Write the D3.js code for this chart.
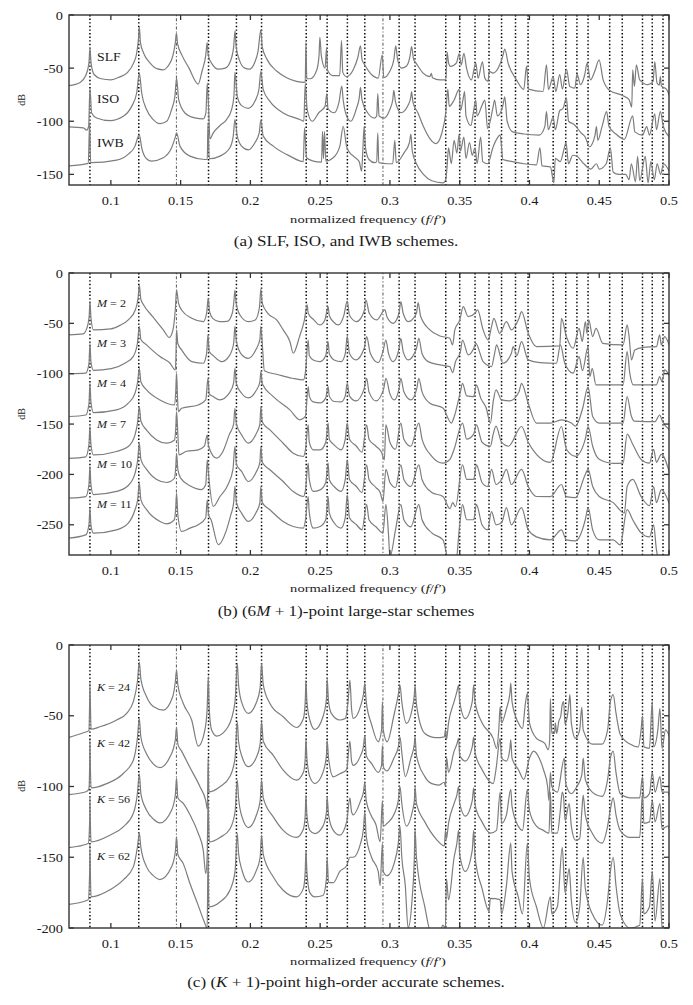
<!DOCTYPE html>
<html><head><meta charset="utf-8">
<script src="https://cdn.jsdelivr.net/npm/d3@7"></script>
<style>
body{margin:0;background:#fff}
text{font-family:"Liberation Serif","Times New Roman",serif;fill:#1a1a1a}
</style>
</head><body>
<svg id="chart" width="693" height="1005"></svg>
<script>
// ---------------- data ----------------
const eigenFreqs = [0.085,0.12,0.147,0.17,0.19,0.208,0.24,0.255,0.2695,0.282,0.295,0.3066,0.318,0.34,0.35,0.361,0.371,0.38,0.39,0.399,0.417,0.426,0.434,0.442,0.4575,0.4665,0.481,0.488,0.4957];
const lightFreqs = [0.147,0.295];
const xTicks = [0.1,0.15,0.2,0.25,0.3,0.35,0.4,0.45,0.5];
const xTickLabels = ["0.1","0.15","0.2","0.25","0.3","0.35","0.4","0.45","0.5"];
const yTicksA = [0,-50,-100,-150];
const yTicksB = [0,-50,-100,-150,-200,-250];
const yTicksC = [0,-50,-100,-150,-200];
const yTickLabelsA = ["0","-50","-100","-150"];
const yTickLabelsB = ["0","-50","-100","-150","-200","-250"];
const yTickLabelsC = ["0","-50","-100","-150","-200"];

const slf = [[0.070,-66.5],[0.078,-63.5],[0.082,-57],[0.0843,-45],[0.085,-31],[0.0858,-45],[0.088,-56],[0.093,-60],[0.100,-61],[0.106,-58.5],[0.112,-54],[0.116,-46],[0.1185,-36],[0.1198,-22],[0.1204,-11],[0.1212,-26],[0.1235,-36],[0.128,-45],[0.133,-50.5],[0.1376,-51.6],[0.141,-48],[0.1445,-38],[0.1462,-26],[0.147,-17],[0.1478,-27],[0.151,-38],[0.156,-50],[0.1626,-65],[0.1655,-52],[0.168,-38],[0.169,-26],[0.1698,-38],[0.173,-47],[0.177,-51],[0.182,-50],[0.1855,-44],[0.188,-30],[0.189,-15],[0.1898,-30],[0.192,-42],[0.196,-50],[0.1995,-51],[0.203,-45],[0.2055,-34],[0.2075,-14],[0.2085,-30],[0.212,-42],[0.219,-53],[0.226,-59],[0.233,-62.5],[0.2393,-63.5],[0.2398,-26],[0.2404,-60],[0.243,-60],[0.2475,-52],[0.2492,-38],[0.2498,-21],[0.2508,-38],[0.2535,-50],[0.2546,-31],[0.2553,-52],[0.259,-57],[0.264,-57],[0.2653,-24],[0.2662,-54],[0.2689,-58],[0.2737,-51.5],[0.2770,-40],[0.2789,-29],[0.2800,-42],[0.2820,-47],[0.2868,-56],[0.2916,-59.4],[0.2945,-37.5],[0.2956,-59],[0.2999,-53],[0.3028,-42],[0.3042,-29],[0.3055,-42],[0.3083,-50],[0.3119,-48],[0.3145,-38],[0.3155,-29.7],[0.3170,-42],[0.3186,-45],[0.3238,-54.7],[0.3286,-58],[0.3297,-55],[0.3305,-59],[0.3358,-61],[0.3401,-61],[0.3410,-35],[0.3420,-45],[0.3434,-48.4],[0.3477,-45],[0.3496,-36.5],[0.3511,-47],[0.3530,-36],[0.3549,-50],[0.3584,-61],[0.3615,-45],[0.3632,-59.4],[0.3663,-44],[0.3680,-59.4],[0.3704,-62.5],[0.3711,-53],[0.3740,-54.7],[0.3787,-46.9],[0.3810,-38],[0.3823,-32],[0.3847,-45.3],[0.3907,-61],[0.3959,-70],[0.3979,-48],[0.3993,-69.7],[0.4098,-72],[0.4122,-47],[0.4136,-70.3],[0.4170,-58],[0.4189,-71.9],[0.4217,-56],[0.4236,-69.7],[0.4265,-51],[0.4289,-67.2],[0.4325,-68.75],[0.4341,-55.3],[0.4365,-65.6],[0.4396,-56.25],[0.4413,-45.3],[0.4437,-61],[0.4468,-53],[0.4499,-42.2],[0.4528,-61],[0.4575,-71],[0.4671,-76],[0.4714,-79.7],[0.4733,-86.6],[0.4740,-51.6],[0.4752,-67.2],[0.4766,-46.9],[0.4790,-61],[0.4850,-65.6],[0.4886,-62.5],[0.4898,-43.75],[0.4914,-64],[0.4930,-66],[0.4938,-58],[0.4946,-67],[0.4981,-69.7],[0.5005,-76.6]];

const iso = [[0.070,-105.3],[0.0803,-106.25],[0.0827,-108.4],[0.0841,-104.7],[0.0850,-69],[0.0862,-92.2],[0.0898,-96.9],[0.0994,-99.4],[0.1089,-95.3],[0.1149,-86],[0.1185,-73.4],[0.1204,-54.7],[0.1221,-73.4],[0.1256,-89],[0.1304,-98.4],[0.1352,-102.2],[0.1400,-100],[0.1435,-89],[0.1459,-76.6],[0.1471,-59.4],[0.1486,-79.7],[0.1531,-92.2],[0.1603,-96.9],[0.1662,-97.8],[0.1681,-92.2],[0.1691,-64],[0.1700,-86],[0.1710,-116.6],[0.1734,-111],[0.1782,-104],[0.1829,-98.4],[0.1865,-89],[0.1882,-76.6],[0.1889,-54],[0.1906,-76.6],[0.1937,-85.3],[0.1985,-87.8],[0.2032,-81.25],[0.2061,-70.3],[0.2075,-53.1],[0.2092,-70.3],[0.2140,-81.25],[0.2235,-92.2],[0.2355,-98.4],[0.2383,-100],[0.2393,-64.7],[0.2407,-89],[0.2443,-100],[0.2490,-92],[0.2535,-86],[0.2548,-74],[0.2556,-88],[0.2600,-92],[0.2635,-82],[0.2655,-67],[0.2665,-80],[0.2700,-98],[0.2720,-100],[0.2760,-88],[0.2780,-78],[0.2789,-68],[0.2800,-80],[0.2840,-92],[0.2890,-97],[0.2905,-95],[0.2913,-74],[0.2922,-95],[0.2960,-97],[0.2999,-89],[0.3020,-80],[0.3028,-71],[0.3040,-82],[0.3080,-92],[0.3130,-85],[0.3150,-77],[0.3155,-72],[0.3165,-82],[0.3200,-92],[0.3240,-105],[0.3290,-117],[0.3330,-121],[0.3370,-112],[0.3400,-92],[0.3415,-70],[0.3425,-86],[0.3460,-80],[0.3496,-70],[0.3505,-90],[0.3530,-75],[0.3535,-72],[0.3545,-95],[0.3580,-104],[0.3600,-90],[0.3615,-80],[0.3625,-95],[0.3660,-85],[0.3680,-80],[0.3700,-107],[0.3740,-86],[0.3750,-80],[0.3770,-95],[0.3810,-85],[0.3823,-77],[0.3840,-100],[0.3880,-110],[0.3960,-112],[0.4070,-113],[0.4110,-105],[0.4122,-91],[0.4135,-108],[0.4170,-96],[0.4185,-108],[0.4217,-90],[0.4240,-88],[0.4265,-78],[0.4280,-100],[0.4320,-103],[0.4370,-111],[0.4400,-115],[0.4430,-124],[0.4470,-113],[0.4480,-105],[0.4490,-118],[0.4520,-105],[0.4553,-91],[0.4570,-105],[0.4620,-112],[0.4680,-117],[0.4740,-95],[0.4755,-110],[0.4810,-113],[0.4840,-105],[0.4860,-113],[0.4898,-93],[0.4910,-108],[0.4938,-91],[0.4960,-105],[0.5005,-115]];

const iwb = [[0.070,-142],[0.0838,-139.7],[0.0848,-101.6],[0.0855,-139],[0.1041,-136.6],[0.1125,-131],[0.1173,-123.4],[0.1197,-114],[0.1204,-112.5],[0.1221,-125],[0.1256,-135.3],[0.1292,-137.5],[0.1376,-134.4],[0.1435,-125],[0.1464,-114],[0.1471,-111],[0.1495,-123.4],[0.1567,-132.8],[0.1674,-136],[0.1691,-136],[0.1696,-101.6],[0.1705,-135.3],[0.1782,-132.8],[0.1853,-125],[0.1877,-114],[0.1889,-98.4],[0.1906,-114],[0.1937,-123.4],[0.1985,-127],[0.2032,-120.3],[0.2063,-111],[0.2075,-99],[0.2092,-114],[0.2164,-123.4],[0.2283,-132.8],[0.2379,-138],[0.2388,-106.25],[0.2402,-134.4],[0.2450,-137.5],[0.2510,-138.4],[0.2517,-109.4],[0.2524,-135.3],[0.2531,-109.4],[0.2541,-137.5],[0.2594,-134.4],[0.2641,-123.4],[0.2665,-104.7],[0.2689,-123.4],[0.2713,-129.7],[0.2740,-133],[0.2780,-138],[0.2797,-147],[0.2805,-130],[0.2815,-105],[0.2825,-125],[0.2850,-136],[0.2890,-139],[0.2905,-138],[0.2913,-111],[0.2920,-139],[0.2980,-140],[0.3020,-140],[0.3035,-118],[0.3045,-139],[0.3100,-130],[0.3140,-120],[0.3150,-112],[0.3160,-128],[0.3190,-140],[0.3240,-150],[0.3300,-156],[0.3380,-158],[0.3400,-155],[0.3410,-142],[0.3420,-125],[0.3440,-140],[0.3460,-118],[0.3480,-130],[0.3496,-112],[0.3505,-128],[0.3530,-115],[0.3545,-135],[0.3570,-120],[0.3590,-132],[0.3610,-125],[0.3625,-140],[0.3650,-115],[0.3665,-138],[0.3700,-140],[0.3740,-124],[0.3760,-118],[0.3790,-113],[0.3810,-136],[0.3880,-138],[0.3960,-140],[0.4050,-141],[0.4075,-125],[0.4090,-142],[0.4150,-143],[0.4175,-158],[0.4185,-135],[0.4220,-138],[0.4250,-125],[0.4262,-120],[0.4280,-140],[0.4310,-132],[0.4340,-133],[0.4390,-140],[0.4440,-145],[0.4480,-140],[0.4500,-145],[0.4550,-140],[0.4580,-125],[0.4600,-148],[0.4640,-150],[0.4690,-150],[0.4714,-155],[0.4730,-140],[0.4760,-157],[0.4775,-133],[0.4790,-156],[0.4830,-133],[0.4850,-158],[0.4870,-138],[0.4895,-155],[0.4915,-140],[0.4940,-150],[0.4960,-140],[0.5005,-148]];

const m2 = [[0.070,-61.5],[0.080,-60.5],[0.083,-54],[0.0845,-42],[0.085,-28.5],[0.0857,-44],[0.0875,-56.5],[0.100,-55.5],[0.1065,-52],[0.1125,-46.6],[0.1175,-36.7],[0.1195,-25],[0.1204,-12],[0.1215,-26],[0.1235,-31.7],[0.130,-43.3],[0.1376,-56.5],[0.1419,-64],[0.1445,-56.5],[0.1462,-36],[0.1471,-17],[0.1485,-30],[0.1507,-36.7],[0.158,-45],[0.1662,-48.3],[0.1686,-40],[0.1698,-25],[0.1707,-38],[0.173,-45],[0.178,-48.3],[0.1835,-48],[0.1870,-40],[0.1882,-28],[0.1889,-17],[0.1898,-30],[0.1925,-41.7],[0.1985,-48.3],[0.2035,-46.6],[0.2065,-34],[0.2075,-16],[0.2085,-30],[0.2125,-40],[0.2188,-46.6],[0.2235,-56.5],[0.2283,-68],[0.2307,-79.7],[0.2352,-63.2],[0.2385,-48],[0.2407,-31.7],[0.2414,-40],[0.2455,-46.6],[0.2498,-51.6],[0.2534,-46.6],[0.2557,-33.4],[0.2565,-42],[0.2594,-48.3],[0.2630,-51.6],[0.2670,-42],[0.2694,-28],[0.2710,-42],[0.2761,-48.3],[0.2815,-38],[0.2828,-26.8],[0.2852,-40],[0.2905,-46.6],[0.2964,-36.7],[0.2980,-44],[0.3023,-50],[0.3065,-40],[0.3078,-28.4],[0.3095,-40],[0.3131,-48.3],[0.3190,-40],[0.3202,-29.4],[0.3220,-43],[0.3286,-56.5],[0.3358,-62.5],[0.3429,-64.8],[0.3449,-71.4],[0.3465,-56.5],[0.3501,-46.6],[0.3525,-33.4],[0.3561,-43.3],[0.3610,-40],[0.3628,-36.7],[0.3668,-56.5],[0.3704,-66.5],[0.3730,-52],[0.3745,-45],[0.3787,-59.9],[0.3835,-48.3],[0.3871,-56.5],[0.3925,-45],[0.3943,-38.4],[0.3991,-59.9],[0.4050,-73.1],[0.4217,-72.4],[0.4229,-45],[0.4265,-63.2],[0.4313,-74.7],[0.4356,-54.9],[0.4378,-68],[0.4401,-48.3],[0.4412,-60],[0.4425,-46.6],[0.4453,-63.2],[0.4477,-54.9],[0.4525,-69.8],[0.4671,-71.4],[0.4700,-51.6],[0.4714,-63.2],[0.4731,-86.3],[0.4755,-76.4],[0.4814,-73.8],[0.4910,-73.1],[0.4933,-61.5],[0.4945,-71.4],[0.4969,-63.2],[0.5005,-73.1]];

const m3 = [[0.070,-100],[0.082,-99.5],[0.0843,-90],[0.085,-69.8],[0.0857,-88],[0.0875,-96.6],[0.1003,-95],[0.110,-89.6],[0.1160,-83],[0.1190,-70],[0.1204,-53],[0.1215,-66],[0.1256,-71.4],[0.1352,-83],[0.1424,-89.6],[0.1462,-96.2],[0.1467,-80],[0.1471,-56.5],[0.1480,-70],[0.1507,-76.4],[0.158,-88],[0.1662,-89.6],[0.1686,-80],[0.1696,-61.5],[0.1705,-78],[0.1734,-82],[0.1794,-88],[0.1850,-82],[0.1880,-70],[0.1889,-53],[0.1900,-68],[0.1937,-81],[0.1985,-84.7],[0.2040,-76],[0.2068,-66],[0.2075,-53],[0.2085,-70],[0.2100,-97],[0.2200,-101],[0.2300,-104.5],[0.2380,-106.2],[0.2395,-98],[0.2414,-66.5],[0.2422,-82],[0.2450,-86.3],[0.2500,-88],[0.2540,-82],[0.2557,-68],[0.2565,-80],[0.2600,-86.3],[0.2650,-88],[0.2680,-80],[0.2694,-63],[0.2710,-80],[0.2756,-86.3],[0.2815,-75],[0.2833,-63.2],[0.2860,-80],[0.2916,-89],[0.2950,-78],[0.2971,-66.5],[0.2990,-80],[0.3023,-88],[0.3065,-75],[0.3078,-64.8],[0.3095,-78],[0.3131,-86.3],[0.3190,-75],[0.3207,-64.8],[0.3230,-80],[0.3274,-88],[0.3358,-91.3],[0.3429,-92.9],[0.3449,-99],[0.3470,-88],[0.3505,-78],[0.3520,-66.5],[0.3561,-81.3],[0.3600,-75],[0.3615,-69.8],[0.3668,-88],[0.3728,-92.9],[0.3750,-80],[0.3764,-71.4],[0.3810,-89.6],[0.3870,-80],[0.3883,-73.1],[0.3910,-82],[0.3943,-68.1],[0.3991,-86.3],[0.4074,-89],[0.4193,-89.6],[0.4222,-71.4],[0.4253,-89.6],[0.4313,-99.5],[0.4356,-83],[0.4380,-97],[0.4420,-73.1],[0.4432,-102.8],[0.4450,-95],[0.4477,-111.1],[0.4671,-111.1],[0.4700,-78],[0.4719,-99.5],[0.4743,-111],[0.4910,-111],[0.4933,-102.8],[0.4950,-108],[0.4969,-96.2],[0.5005,-102.8]];

const m4 = [[0.070,-142.5],[0.082,-141],[0.0843,-130],[0.085,-109.5],[0.0857,-128],[0.0875,-138.6],[0.1041,-135.9],[0.1125,-129.3],[0.1173,-119.4],[0.1192,-108],[0.1204,-94.6],[0.1215,-108],[0.1256,-116],[0.1352,-126],[0.1455,-131],[0.1465,-118],[0.1471,-99.5],[0.1478,-125],[0.1484,-137.6],[0.1507,-134.3],[0.1626,-131],[0.1680,-126],[0.1696,-104.5],[0.1705,-120],[0.1734,-122.7],[0.1780,-126],[0.1850,-119],[0.1880,-109],[0.1889,-94.6],[0.1900,-110],[0.1937,-119.4],[0.1985,-124],[0.2040,-117],[0.2068,-108],[0.2075,-97.9],[0.2085,-110],[0.2164,-122.7],[0.2283,-135.9],[0.2355,-145.8],[0.2395,-142],[0.2414,-112.8],[0.2422,-122],[0.2450,-128],[0.2500,-129],[0.2540,-124],[0.2557,-112.8],[0.2565,-122],[0.2600,-127.6],[0.2650,-128],[0.2680,-122],[0.2694,-109.5],[0.2710,-122],[0.2756,-127],[0.2815,-115],[0.2833,-104.5],[0.2850,-118],[0.2900,-127],[0.2955,-115],[0.2971,-104.5],[0.3000,-120],[0.3030,-126],[0.3065,-115],[0.3078,-104.5],[0.3100,-118],[0.3150,-126],[0.3192,-115],[0.3207,-104.5],[0.3230,-118],[0.3286,-129.3],[0.3380,-134],[0.3440,-149],[0.3460,-143],[0.3505,-118],[0.3520,-109.5],[0.3550,-122],[0.3600,-122.7],[0.3620,-111],[0.3650,-124],[0.3690,-134],[0.3720,-149],[0.3740,-128],[0.3760,-116],[0.3800,-126],[0.3860,-127],[0.3925,-118],[0.3943,-109.5],[0.3991,-129.3],[0.4050,-149],[0.4150,-149],[0.4229,-145.8],[0.4300,-149],[0.4330,-152],[0.4380,-135],[0.4420,-113],[0.4453,-142.5],[0.4500,-149],[0.4671,-149.1],[0.4700,-122.7],[0.4730,-142],[0.4750,-147],[0.4900,-147.5],[0.4933,-141],[0.4955,-148],[0.5005,-155.8]];

const m7 = [[0.070,-184],[0.082,-182.5],[0.0843,-170],[0.085,-152.5],[0.0857,-170],[0.0875,-180.6],[0.1041,-177.2],[0.1125,-172.3],[0.1173,-160.7],[0.1192,-148],[0.1204,-132.6],[0.1215,-147],[0.1256,-156],[0.1328,-165.7],[0.1400,-169],[0.1455,-166],[0.1465,-155],[0.1471,-137.6],[0.1480,-160],[0.1488,-180.6],[0.1543,-177],[0.1626,-175.6],[0.1670,-172],[0.1691,-160.7],[0.1700,-172],[0.1758,-183.9],[0.1800,-178],[0.1850,-160],[0.1880,-150],[0.1889,-134.3],[0.1900,-150],[0.1937,-160.7],[0.1985,-168.9],[0.2040,-160],[0.2068,-150],[0.2075,-132.6],[0.2085,-148],[0.2140,-155.8],[0.2235,-169],[0.2307,-178.9],[0.2380,-182.2],[0.2395,-175],[0.2414,-150.8],[0.2422,-168],[0.2450,-175.6],[0.2500,-175.6],[0.2540,-168],[0.2557,-149.1],[0.2565,-165],[0.2600,-170.6],[0.2650,-175.6],[0.2680,-165],[0.2694,-149.1],[0.2710,-165],[0.2760,-172],[0.2800,-178],[0.2833,-150.8],[0.2850,-165],[0.2900,-172],[0.2940,-178],[0.2960,-185.5],[0.2971,-150.8],[0.3000,-168],[0.3040,-175],[0.3078,-149.1],[0.3100,-165],[0.3150,-172],[0.3207,-149.1],[0.3230,-165],[0.3300,-182],[0.3380,-188.8],[0.3430,-185],[0.3460,-175],[0.3520,-149.1],[0.3550,-165],[0.3600,-160],[0.3620,-150.8],[0.3660,-168],[0.3720,-172],[0.3740,-160],[0.3760,-152],[0.3800,-168],[0.3850,-172],[0.3943,-152.4],[0.3991,-168],[0.4050,-180],[0.4150,-188],[0.4229,-152.4],[0.4265,-175],[0.4330,-182],[0.4400,-165],[0.4420,-152.4],[0.4453,-172],[0.4500,-185],[0.4600,-189],[0.4671,-188.8],[0.4700,-160],[0.4740,-170],[0.4800,-185],[0.4860,-188.8],[0.4890,-175],[0.4910,-188],[0.4945,-180],[0.5005,-199]];

const m10 = [[0.070,-223.5],[0.082,-222],[0.0843,-210],[0.085,-192],[0.0857,-210],[0.0875,-220],[0.1041,-216.9],[0.1125,-211],[0.1173,-199],[0.1192,-186],[0.1204,-169],[0.1215,-185],[0.1256,-195],[0.1328,-205],[0.1400,-208],[0.1455,-204],[0.1465,-193],[0.1471,-179],[0.1480,-195],[0.1500,-203.7],[0.1570,-211.5],[0.1650,-215],[0.1680,-210],[0.1691,-185.5],[0.1700,-200],[0.1734,-231.8],[0.1782,-221.9],[0.1840,-210],[0.1875,-195],[0.1889,-172.3],[0.1900,-190],[0.1937,-197],[0.1985,-207],[0.2040,-198],[0.2068,-188],[0.2075,-172.3],[0.2085,-188],[0.2140,-195.4],[0.2235,-207],[0.2307,-217],[0.2380,-221.9],[0.2395,-215],[0.2414,-188.8],[0.2422,-205],[0.2450,-216.9],[0.2500,-215.3],[0.2540,-208],[0.2557,-188.8],[0.2565,-205],[0.2600,-212],[0.2650,-216.9],[0.2680,-205],[0.2694,-185.5],[0.2710,-205],[0.2760,-212],[0.2800,-218],[0.2833,-190.5],[0.2850,-205],[0.2900,-213],[0.2930,-218],[0.2950,-227],[0.2971,-195],[0.3000,-208],[0.3040,-213],[0.3078,-190.5],[0.3100,-205],[0.3150,-212],[0.3207,-190.5],[0.3230,-205],[0.3300,-218],[0.3380,-221.9],[0.3430,-234],[0.3450,-228],[0.3470,-232],[0.3520,-190.5],[0.3550,-205],[0.3600,-205],[0.3620,-190.5],[0.3660,-208],[0.3700,-212],[0.3728,-195],[0.3760,-210],[0.3800,-205],[0.3835,-195],[0.3870,-210],[0.3943,-195],[0.3991,-212],[0.4050,-221.9],[0.4150,-222],[0.4229,-210],[0.4265,-222],[0.4330,-223],[0.4400,-200],[0.4420,-195],[0.4453,-212],[0.4500,-221.9],[0.4600,-228],[0.4680,-238.4],[0.4700,-212],[0.4740,-205],[0.4800,-222],[0.4860,-231],[0.4890,-212],[0.4910,-228],[0.4945,-215],[0.5005,-230]];

const m11 = [[0.070,-263.2],[0.082,-260],[0.0843,-250],[0.085,-233.5],[0.0857,-250],[0.0875,-258.3],[0.1041,-255],[0.1125,-248.3],[0.1173,-235.1],[0.1192,-225],[0.1204,-208.7],[0.1215,-225],[0.1256,-235],[0.1352,-246.7],[0.1400,-249],[0.1455,-245],[0.1465,-233],[0.1471,-218.6],[0.1480,-240],[0.1507,-256.6],[0.1567,-253.3],[0.1626,-250],[0.1680,-243],[0.1691,-225.2],[0.1700,-240],[0.1718,-245],[0.1770,-269.8],[0.1829,-255],[0.1860,-240],[0.1880,-228],[0.1889,-212],[0.1900,-228],[0.1937,-238.4],[0.1985,-246.7],[0.2040,-238],[0.2068,-228],[0.2075,-212],[0.2085,-228],[0.2140,-235.1],[0.2235,-246.7],[0.2307,-251.7],[0.2380,-253.3],[0.2395,-245],[0.2414,-221.9],[0.2422,-238],[0.2450,-253.3],[0.2500,-251.7],[0.2540,-245],[0.2557,-221.9],[0.2565,-238],[0.2600,-248],[0.2650,-253.3],[0.2680,-243],[0.2694,-220.2],[0.2710,-243],[0.2760,-250],[0.2800,-255],[0.2833,-230],[0.2850,-245],[0.2900,-252],[0.2950,-258],[0.2971,-230],[0.2990,-260],[0.3000,-282],[0.3040,-255],[0.3078,-230],[0.3100,-245],[0.3150,-252],[0.3207,-230],[0.3230,-245],[0.3300,-258],[0.3380,-265],[0.3430,-290],[0.3470,-290],[0.3500,-250],[0.3520,-230],[0.3550,-245],[0.3600,-245],[0.3620,-230],[0.3660,-250],[0.3700,-255],[0.3728,-237],[0.3760,-250],[0.3800,-248],[0.3835,-233],[0.3870,-250],[0.3943,-233],[0.3991,-255],[0.4050,-262],[0.4150,-265],[0.4229,-255],[0.4265,-265],[0.4330,-266],[0.4400,-245],[0.4420,-233],[0.4453,-255],[0.4500,-265],[0.4600,-265],[0.4650,-270],[0.4700,-235],[0.4740,-245],[0.4800,-258],[0.4860,-262],[0.4890,-250],[0.4910,-275],[0.4945,-290],[0.5005,-290]];

const k24 = [[0.070,-65.3],[0.0803,-62],[0.0843,-60.5],[0.0848,-40],[0.085,-27],[0.0853,-40],[0.0858,-59.5],[0.0922,-57.8],[0.1041,-53],[0.1113,-48.3],[0.1161,-40],[0.1190,-26],[0.1204,-12],[0.1215,-24],[0.1256,-36.6],[0.1304,-43.5],[0.1376,-46],[0.1443,-36.6],[0.1462,-26],[0.1471,-17.7],[0.1480,-28],[0.1519,-41.3],[0.1579,-53],[0.1626,-71.5],[0.1674,-60],[0.1690,-45],[0.1698,-22.4],[0.1705,-45],[0.1722,-60.1],[0.1758,-64.4],[0.1840,-57.8],[0.1890,-40],[0.1906,-13],[0.1915,-28],[0.1940,-41.3],[0.1985,-48.3],[0.2040,-41.3],[0.2070,-30],[0.2080,-13],[0.2092,-28],[0.2140,-41.3],[0.2235,-50.7],[0.2331,-58.3],[0.2380,-52],[0.2393,-40],[0.2398,-25],[0.2405,-40],[0.2426,-53],[0.2462,-59.7],[0.2520,-50.7],[0.2545,-38],[0.2550,-23.6],[0.2560,-40],[0.2580,-48.3],[0.2641,-53],[0.2680,-51.9],[0.2700,-40],[0.2713,-24.8],[0.2725,-45],[0.2737,-51.9],[0.2790,-43],[0.2810,-35],[0.2820,-27.1],[0.2830,-40],[0.2868,-56],[0.2916,-68.4],[0.2940,-60],[0.2946,-40],[0.2952,-60],[0.2980,-68.4],[0.3028,-50],[0.3060,-35],[0.3072,-28.3],[0.3085,-40],[0.3119,-55.4],[0.3160,-45],[0.3175,-35],[0.3180,-28.3],[0.3190,-42],[0.3250,-62.5],[0.3330,-65.5],[0.3390,-64.9],[0.3398,-60],[0.3405,-67],[0.3420,-55],[0.3460,-40],[0.3480,-33],[0.3492,-28.3],[0.3500,-40],[0.3540,-52],[0.3590,-40],[0.3600,-28.3],[0.3610,-40],[0.3660,-55],[0.3740,-66],[0.3764,-73],[0.3780,-60],[0.3790,-43.6],[0.3800,-55],[0.3835,-45],[0.3860,-34],[0.3866,-27],[0.3875,-40],[0.3920,-55],[0.3950,-59],[0.3970,-42],[0.3985,-34],[0.4000,-55],[0.4050,-66],[0.4110,-69.6],[0.4135,-74],[0.4145,-67],[0.4150,-38],[0.4160,-62.5],[0.4180,-62.5],[0.4185,-55],[0.4195,-62.5],[0.4210,-54],[0.4225,-50],[0.4235,-42],[0.4245,-40],[0.4255,-56],[0.4275,-48],[0.4285,-39],[0.4290,-35],[0.4300,-55],[0.4330,-66],[0.4360,-60],[0.4375,-44],[0.4385,-60],[0.4450,-70],[0.4520,-70],[0.4560,-60],[0.4580,-40],[0.4600,-35],[0.4620,-48],[0.4650,-63],[0.4720,-70],[0.4780,-72],[0.4800,-60],[0.4810,-50],[0.4820,-72],[0.4860,-73],[0.4880,-40],[0.4890,-72],[0.4920,-60],[0.4935,-45],[0.4950,-73],[0.4975,-60],[0.5005,-65]];

const k42 = [[0.070,-105.7],[0.0827,-103.5],[0.0843,-101.4],[0.0848,-85],[0.085,-67],[0.0853,-85],[0.0858,-101],[0.0970,-98],[0.1089,-90.8],[0.1161,-81.4],[0.1190,-66],[0.1204,-52],[0.1215,-65],[0.1256,-77],[0.1304,-84],[0.1352,-86.6],[0.1424,-79],[0.1462,-67],[0.1471,-58],[0.1480,-70],[0.1507,-75],[0.1567,-86.6],[0.1638,-100],[0.1680,-110],[0.1692,-116],[0.1697,-80],[0.1702,-103.8],[0.1782,-100.2],[0.1853,-93],[0.1890,-80],[0.1906,-54.2],[0.1915,-68],[0.1940,-79],[0.1985,-86],[0.2040,-80],[0.2070,-70],[0.2080,-54.2],[0.2092,-68],[0.2164,-78],[0.2235,-88.4],[0.2331,-95.5],[0.2380,-90],[0.2393,-80],[0.2398,-66],[0.2405,-80],[0.2426,-93.2],[0.2462,-97.9],[0.2520,-90],[0.2545,-78],[0.2550,-67.2],[0.2560,-80],[0.2594,-93.2],[0.2641,-91],[0.2690,-88],[0.2713,-68],[0.2725,-82],[0.2737,-85],[0.2790,-78],[0.2810,-72],[0.2820,-63.7],[0.2830,-78],[0.2868,-83.7],[0.2916,-90],[0.2940,-85],[0.2946,-71],[0.2952,-86],[0.2980,-89],[0.3028,-80],[0.3060,-72],[0.3072,-65],[0.3085,-76],[0.3110,-93],[0.3150,-80],[0.3175,-70],[0.3180,-65],[0.3190,-78],[0.3250,-93],[0.3300,-98],[0.3350,-99],[0.3390,-97],[0.3398,-100],[0.3405,-79],[0.3420,-90],[0.3460,-75],[0.3480,-70],[0.3492,-66],[0.3500,-78],[0.3540,-82],[0.3590,-72],[0.3600,-65],[0.3610,-76],[0.3660,-88],[0.3740,-98],[0.3760,-88],[0.3790,-66],[0.3800,-80],[0.3835,-82],[0.3860,-73],[0.3866,-67],[0.3875,-80],[0.3920,-88],[0.3960,-95],[0.4000,-80],[0.4030,-75],[0.4070,-80],[0.4100,-88],[0.4130,-100],[0.4140,-110],[0.4150,-90],[0.4160,-100],[0.4200,-104],[0.4250,-80],[0.4260,-98],[0.4300,-105],[0.4340,-100],[0.4375,-92],[0.4385,-80],[0.4400,-95],[0.4450,-104],[0.4520,-107],[0.4560,-95],[0.4580,-80],[0.4600,-75],[0.4620,-90],[0.4650,-105],[0.4720,-108],[0.4790,-108],[0.4810,-93],[0.4820,-108],[0.4860,-105],[0.4880,-90],[0.4900,-104],[0.4935,-93],[0.4950,-104],[0.4990,-104],[0.5005,-107]];

const k56 = [[0.070,-143.2],[0.0838,-140.3],[0.0848,-125],[0.085,-107],[0.0853,-125],[0.0858,-139.2],[0.0994,-134.4],[0.1089,-128.5],[0.1161,-119],[0.1190,-105],[0.1204,-91],[0.1215,-105],[0.1256,-116.7],[0.1304,-123],[0.1352,-125.7],[0.1435,-116.7],[0.1462,-106],[0.1471,-94],[0.1480,-108],[0.1519,-112],[0.1567,-120],[0.1626,-133],[0.1662,-145],[0.1680,-161.6],[0.1690,-150],[0.1697,-110],[0.1705,-139.2],[0.1782,-136],[0.1853,-130],[0.1890,-118],[0.1906,-95.5],[0.1915,-108],[0.1940,-121.5],[0.1985,-129],[0.2040,-121],[0.2070,-110],[0.2080,-95.5],[0.2092,-108],[0.2164,-121.5],[0.2235,-131],[0.2331,-136],[0.2380,-130],[0.2393,-120],[0.2398,-106],[0.2405,-120],[0.2426,-131],[0.2462,-133.3],[0.2520,-128],[0.2545,-118],[0.2550,-107.3],[0.2560,-120],[0.2594,-131],[0.2641,-134.4],[0.2690,-125],[0.2713,-108],[0.2725,-118],[0.2737,-120],[0.2790,-110],[0.2810,-104],[0.2820,-97],[0.2830,-110],[0.2868,-121],[0.2900,-127],[0.2930,-139],[0.2946,-110],[0.2952,-128],[0.2980,-126],[0.3028,-120],[0.3060,-110],[0.3072,-100],[0.3085,-112],[0.3119,-128],[0.3160,-118],[0.3175,-110],[0.3180,-100],[0.3190,-112],[0.3250,-125],[0.3330,-137],[0.3390,-142],[0.3398,-131],[0.3405,-137],[0.3420,-126],[0.3460,-112],[0.3480,-106],[0.3492,-100],[0.3500,-112],[0.3540,-121],[0.3590,-110],[0.3600,-101],[0.3610,-113],[0.3660,-125],[0.3720,-133],[0.3764,-131],[0.3790,-104],[0.3800,-126],[0.3835,-120],[0.3866,-102],[0.3875,-114],[0.3920,-128],[0.3950,-131],[0.3985,-102],[0.4000,-117],[0.4050,-128],[0.4100,-131],[0.4140,-133],[0.4150,-104],[0.4160,-133],[0.4200,-133],[0.4220,-118],[0.4235,-104],[0.4245,-108],[0.4255,-124],[0.4285,-112],[0.4300,-128],[0.4330,-138],[0.4360,-137],[0.4375,-118],[0.4385,-106],[0.4400,-120],[0.4450,-133],[0.4520,-140],[0.4560,-128],[0.4580,-116],[0.4600,-108],[0.4620,-120],[0.4650,-131],[0.4720,-136],[0.4790,-136],[0.4810,-105],[0.4820,-126],[0.4860,-125],[0.4880,-110],[0.4900,-125],[0.4935,-112],[0.4950,-130],[0.4990,-128],[0.5005,-130]];

const k62 = [[0.070,-183.3],[0.0838,-180],[0.0848,-160],[0.085,-141.5],[0.0853,-160],[0.0858,-178],[0.0994,-173],[0.1089,-166],[0.1161,-156.8],[0.1190,-143],[0.1204,-133],[0.1215,-143],[0.1256,-156.8],[0.1304,-163],[0.1352,-165.8],[0.1435,-156.8],[0.1462,-146],[0.1471,-135.6],[0.1480,-148],[0.1519,-154.5],[0.1567,-168.6],[0.1626,-184],[0.1667,-195],[0.1690,-200],[0.1697,-148],[0.1702,-185.1],[0.1782,-181.6],[0.1853,-173.3],[0.1890,-160],[0.1906,-133.3],[0.1915,-147],[0.1940,-159.2],[0.1985,-167.5],[0.2040,-160],[0.2070,-150],[0.2080,-134.4],[0.2092,-148],[0.2164,-163.9],[0.2235,-173.3],[0.2331,-178],[0.2380,-172],[0.2393,-160],[0.2398,-145],[0.2405,-160],[0.2426,-175],[0.2462,-178],[0.2520,-177],[0.2545,-165],[0.2550,-150],[0.2560,-168],[0.2594,-168],[0.2641,-160],[0.2690,-156],[0.2713,-150],[0.2725,-150],[0.2737,-150],[0.2790,-140],[0.2810,-130],[0.2820,-118],[0.2830,-135],[0.2868,-150],[0.2916,-160],[0.2930,-170],[0.2946,-140],[0.2952,-160],[0.2980,-163],[0.3028,-155],[0.3060,-140],[0.3072,-128],[0.3085,-150],[0.3110,-170],[0.3130,-200],[0.3160,-178],[0.3175,-150],[0.3180,-130],[0.3190,-150],[0.3250,-185],[0.3300,-205],[0.3350,-205],[0.3380,-198],[0.3398,-200],[0.3405,-165],[0.3420,-180],[0.3460,-150],[0.3480,-140],[0.3492,-131],[0.3500,-148],[0.3540,-160],[0.3590,-145],[0.3600,-131],[0.3610,-150],[0.3660,-172],[0.3710,-188],[0.3720,-179],[0.3790,-180],[0.3800,-190],[0.3835,-170],[0.3866,-140],[0.3875,-160],[0.3920,-178],[0.3950,-190],[0.3985,-140],[0.4000,-165],[0.4050,-185],[0.4100,-200],[0.4150,-178],[0.4160,-190],[0.4200,-185],[0.4235,-143],[0.4255,-175],[0.4285,-158],[0.4300,-180],[0.4330,-196],[0.4360,-185],[0.4385,-150],[0.4400,-172],[0.4450,-190],[0.4520,-198],[0.4560,-180],[0.4580,-160],[0.4600,-150],[0.4620,-170],[0.4650,-190],[0.4720,-200],[0.4790,-198],[0.4810,-165],[0.4820,-190],[0.4860,-185],[0.4880,-160],[0.4900,-195],[0.4935,-165],[0.4950,-200],[0.5005,-200]];

const labelsA = ["SLF","ISO","IWB"];
const labelsB = ["2","3","4","7","10","11"];
const labelsC = ["24","42","56","62"];

// ---------------- drawing ----------------
const svg = d3.select("#chart");
const X0 = 69, X1 = 669;
const x = d3.scaleLinear().domain([0.07,0.5]).range([X0,X1]);
const SX = 1.15;  // horizontal stretch of the original typesetting

function txt(g, px, py, parts, size, anchor, sx, targetW){
  const t = g.append("text")
    .attr("text-anchor", anchor||"start")
    .style("font-size", size+"px");
  parts.forEach(p=>{
    const s = t.append("tspan").text(p[0]);
    if (p[1]) s.style("font-style","italic");
  });
  let k = sx||SX;
  if (targetW) { const w = t.node().getComputedTextLength(); if (w>0) k = targetW/w; }
  t.attr("transform", `translate(${px},${py}) scale(${k},1)`);
  return t;
}

const panels = [
  {id:"a", top:15, bottom:185, ymin:-160, ticks:yTicksA, tickLabels:yTickLabelsA, series:[slf,iso,iwb],
   labelY:[57,99,143], labels: labelsA.map(s=>[[s,false]]), labelSize:12.5,
   tickY:205, xlabY:223, capY:246, dbY:100,
   caption:[["(a) SLF, ISO, and IWB schemes.",false]]},
  {id:"b", top:273, bottom:555, ymin:-280, ticks:yTicksB, tickLabels:yTickLabelsB, series:[m2,m3,m4,m7,m10,m11],
   labelY:[303,343,383,424,464,504], labels: labelsB.map(s=>[["M",true],[" = "+s,false]]), labelSize:11,
   tickY:575, xlabY:592, capY:616, dbY:414,
   caption:[["(b) (6",false],["M",true],[" + 1)-point large-star schemes",false]]},
  {id:"c", top:645, bottom:928, ymin:-200, ticks:yTicksC, tickLabels:yTickLabelsC, series:[k24,k42,k56,k62],
   labelY:[687,743,799,856], labels: labelsC.map(s=>[["K",true],[" = "+s,false]]), labelSize:11,
   tickY:948, xlabY:965, capY:987, dbY:786,
   caption:[["(c) (",false],["K",true],[" + 1)-point high-order accurate schemes.",false]]}
];

panels.forEach(P=>{
  const y = d3.scaleLinear().domain([P.ymin,0]).range([P.bottom,P.top]);
  const g = svg.append("g");
  const clipId = "clip"+P.id;
  g.append("clipPath").attr("id",clipId).append("rect")
    .attr("x",X0).attr("y",P.top).attr("width",X1-X0).attr("height",P.bottom-P.top);

  // eigenfrequency reference lines
  g.append("g").selectAll("line").data(eigenFreqs).join("line")
    .attr("x1",d=>x(d)).attr("x2",d=>x(d)).attr("y1",P.top).attr("y2",P.bottom)
    .attr("stroke",d=>lightFreqs.includes(d)?"#666":"#000")
    .attr("stroke-width",d=>lightFreqs.includes(d)?1.1:1.5)
    .attr("stroke-dasharray",d=>lightFreqs.includes(d)?"1.2,2,3,2":"1.4,2.2");

  // curves
  const line = d3.line().x(d=>x(d[0])).y(d=>y(d[1])).curve(d3.curveMonotoneX);
  g.append("g").attr("clip-path",`url(#${clipId})`).selectAll("path").data(P.series).join("path")
    .attr("d",d=>line(d.slice().sort((a,b)=>a[0]-b[0])))
    .attr("fill","none").attr("stroke","#7d7d7d").attr("stroke-width",1.2)
    .attr("stroke-linejoin","round");

  // frame
  g.append("rect").attr("x",X0).attr("y",P.top).attr("width",X1-X0).attr("height",P.bottom-P.top)
    .attr("fill","none").attr("stroke","#333").attr("stroke-width",1.4);

  // ticks (inward on all sides)
  const tl = 5;
  const tg = g.append("g").attr("stroke","#333").attr("stroke-width",1.3);
  xTicks.forEach(t=>{
    tg.append("line").attr("x1",x(t)).attr("x2",x(t)).attr("y1",P.top).attr("y2",P.top+tl);
    tg.append("line").attr("x1",x(t)).attr("x2",x(t)).attr("y1",P.bottom).attr("y2",P.bottom-tl);
  });
  P.ticks.forEach(t=>{
    tg.append("line").attr("x1",X0).attr("x2",X0+tl).attr("y1",y(t)).attr("y2",y(t));
    tg.append("line").attr("x1",X1).attr("x2",X1-tl).attr("y1",y(t)).attr("y2",y(t));
  });

  // tick labels
  xTicks.forEach((t,i)=> txt(g, x(t), P.tickY, [[xTickLabels[i],false]], 12.5, "middle"));
  P.ticks.forEach((t,i)=> txt(g, 63, y(t)+4.5, [[P.tickLabels[i],false]], 12.5, "end"));

  // axis titles
  txt(g, 368, P.xlabY, [["normalized frequency (",false],["f",true],["/",false],["f\u2032",true],[")",false]], 10, "middle", null, 156);
  g.append("text").attr("transform",`translate(25,${P.dbY}) rotate(-90)`)
    .attr("text-anchor","middle").style("font-size","10px").text("dB");

  // series labels
  P.labels.forEach((parts,i)=> txt(g, 97, P.labelY[i]+4, parts, P.labelSize, "start", 1.1));

  // caption
  txt(g, 346, P.capY, P.caption, 15, "middle", 1.14);
});
</script>
</body></html>
